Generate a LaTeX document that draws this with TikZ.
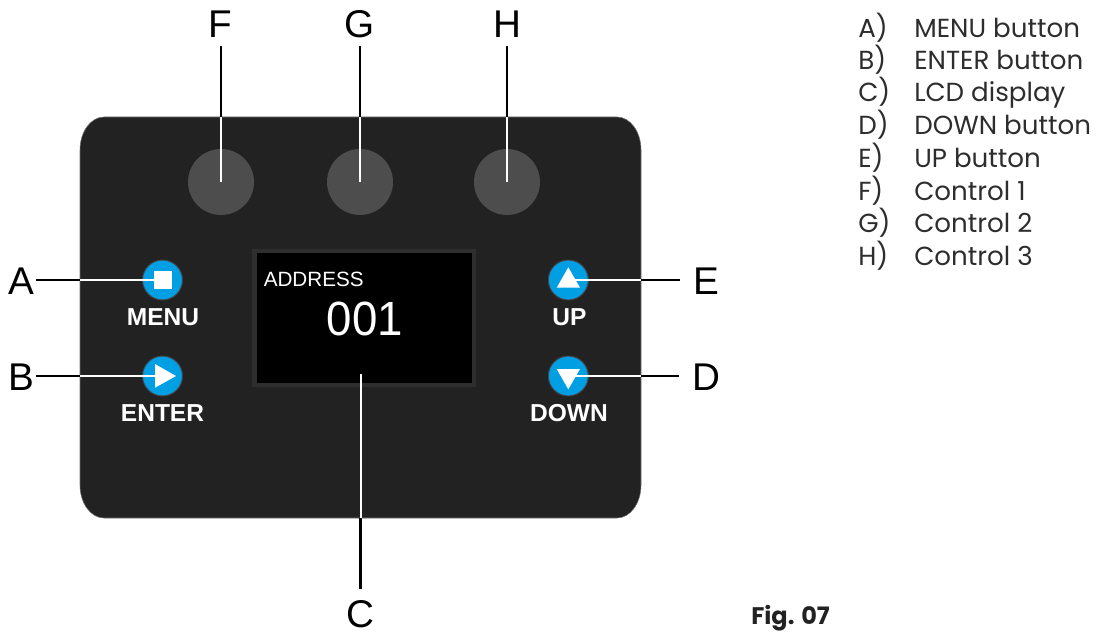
\documentclass[tikz,border=0pt]{standalone}
\usepackage{fontspec}
\setmainfont{Liberation Sans}
\newfontfamily\listfont{Poppins}
\definecolor{panel}{HTML}{222222}
\definecolor{knobc}{HTML}{4D4D4D}
\definecolor{btn}{HTML}{009FE3}
\definecolor{lcdrim}{HTML}{2E2E2E}
\tikzset{
  x=0.75pt,y=-0.75pt,
  knob/.style={circle,fill=knobc,minimum size=49.5pt,inner sep=0pt},
  button/.style={circle,fill=btn,draw=panel!85!white,line width=0.75pt,minimum size=30pt,inner sep=0pt},
  btntext/.style={text=white,font=\fontsize{18.4}{18.4}\selectfont\bfseries,inner sep=0pt},
  letter/.style={font=\fontsize{29}{29}\selectfont,inner sep=0pt,text=black},
  blackline/.style={draw=black,line width=1.9pt},
  whiteline/.style={draw=white,line width=1.5pt},
  glyph/.style={fill=white,draw=none},
  listitem/.style={font=\listfont\fontsize{19.6}{19.6}\selectfont,anchor=base west,inner sep=0pt,text=panel!95!white},
}
\begin{document}
\begin{tikzpicture}
\useasboundingbox (0,0) rectangle (1098,631);
% panel
\filldraw[fill=panel,draw=panel!65!white,line width=0.4pt] (80,150) arc[start angle=180,end angle=90,x radius=18pt,y radius=24.75pt] -- (617,117)
  arc[start angle=90,end angle=0,x radius=18pt,y radius=24.75pt] -- (641,485)
  arc[start angle=0,end angle=-90,x radius=18pt,y radius=24.75pt] -- (104,518)
  arc[start angle=-90,end angle=-180,x radius=18pt,y radius=24.75pt] -- cycle;
% knobs
\node[knob] (knobF) at (221,182) {};
\node[knob] (knobG) at (360,182) {};
\node[knob] (knobH) at (507,182) {};
% LCD
\fill[lcdrim] (252,249) rectangle (476,387);
\node[fill=black,minimum width=161.5pt,minimum height=98pt,inner sep=0pt,anchor=north west] (lcd) at (256.5,252.5) {};
\node[text=white,font=\fontsize{15.5}{15.5}\selectfont,inner sep=0pt,anchor=base west] (addr) at (263.5,286) {ADDRESS};
\node[text=white,font=\fontsize{36}{36}\selectfont,inner sep=0pt,anchor=base] (val) at (365,335) {\scalebox{0.95}[1]{001}};
% buttons
\node[button] (btnA) at (162.5,280) {};
\node[button] (btnB) at (162.5,376) {};
\node[button] (btnE) at (568.3,280) {};
\node[button] (btnD) at (568.3,376) {};
\node[btntext] (tA) at (163,317) {MENU};
\node[btntext] (tB) at (162.5,413.5) {ENTER};
\node[btntext] (tE) at (569.5,317) {UP};
\node[btntext] (tD) at (569,413.5) {DOWN};
% letters
\node[letter] (lA) at (21,281) {A};
\node[letter] (lB) at (21,377) {B};
\node[letter] (lE) at (706,281) {E};
\node[letter] (lD) at (706.5,377) {D};
\node[letter] (lF) at (220.5,24) {F};
\node[letter] (lG) at (360,24) {G};
\node[letter] (lH) at (507.5,24) {H};
\node[letter] (lC) at (360.5,614) {C};
% edge points
\coordinate (eA) at (80,280);
\coordinate (eB) at (80,376);
\coordinate (eE) at (641,280);
\coordinate (eD) at (641,376);
\coordinate (eF) at (221,117);
\coordinate (eG) at (360,117);
\coordinate (eH) at (507,117);
\coordinate (eC) at (360.5,518);
\coordinate (lcdC) at (360.5,374);
% connectors
\draw[blackline,shorten <=1.5pt] (lA.east |- eA) -- (eA);
\draw[blackline,shorten <=1.5pt] (lB.east |- eB) -- (eB);
\draw[blackline,shorten <=10pt] (lE.west |- eE) -- (eE);
\draw[blackline,shorten <=10pt] (lD.west |- eD) -- (eD);
\draw[blackline,shorten <=6pt] (lF.south -| eF) -- (eF);
\draw[blackline,shorten <=6pt] (lG.south -| eG) -- (eG);
\draw[blackline,shorten <=6pt] (lH.south -| eH) -- (eH);
\draw[blackline,shorten <=8pt] (lC.north -| eC) -- (eC);
\draw[whiteline] (eA) -- (btnA.center);
\draw[whiteline] (eB) -- (btnB.center);
\draw[whiteline] (eE) -- (btnE.center);
\draw[whiteline] (eD) -- (btnD.center);
\draw[whiteline] (eF) -- (knobF.center);
\draw[whiteline] (eG) -- (knobG.center);
\draw[whiteline] (eH) -- (knobH.center);
\draw[whiteline] (eC) -- (lcdC);
% button glyphs
\fill[glyph] (154,270.7) rectangle (172,289.3);
\fill[glyph] (155,364) -- (176,376) -- (155,387.7) -- cycle;
\fill[glyph] (568.3,267.3) -- (580,287.7) -- (556.7,287.7) -- cycle;
\fill[glyph] (568.3,389.3) -- (580,369) -- (556.7,369) -- cycle;
% list
\foreach \n/\a/\b/\y in {la/A)/MENU button/37.5,lb/B)/ENTER button/70,lc/C)/LCD display/102,ld/D)/DOWN button/135,le/E)/UP button/167.5,lf/F)/Control 1/200,lg/G)/Control 2/232.5,lh/H)/Control 3/265}{
  \node[listitem] (\n k) at (858,\y) {\a};
  \node[listitem] (\n t) at (914,\y) {\b};
}
\node[font=\listfont\fontsize{18}{18}\selectfont\bfseries,anchor=base west,inner sep=0pt,text=panel] (fig) at (751,624) {Fig. 07};
\end{tikzpicture}
\end{document}
